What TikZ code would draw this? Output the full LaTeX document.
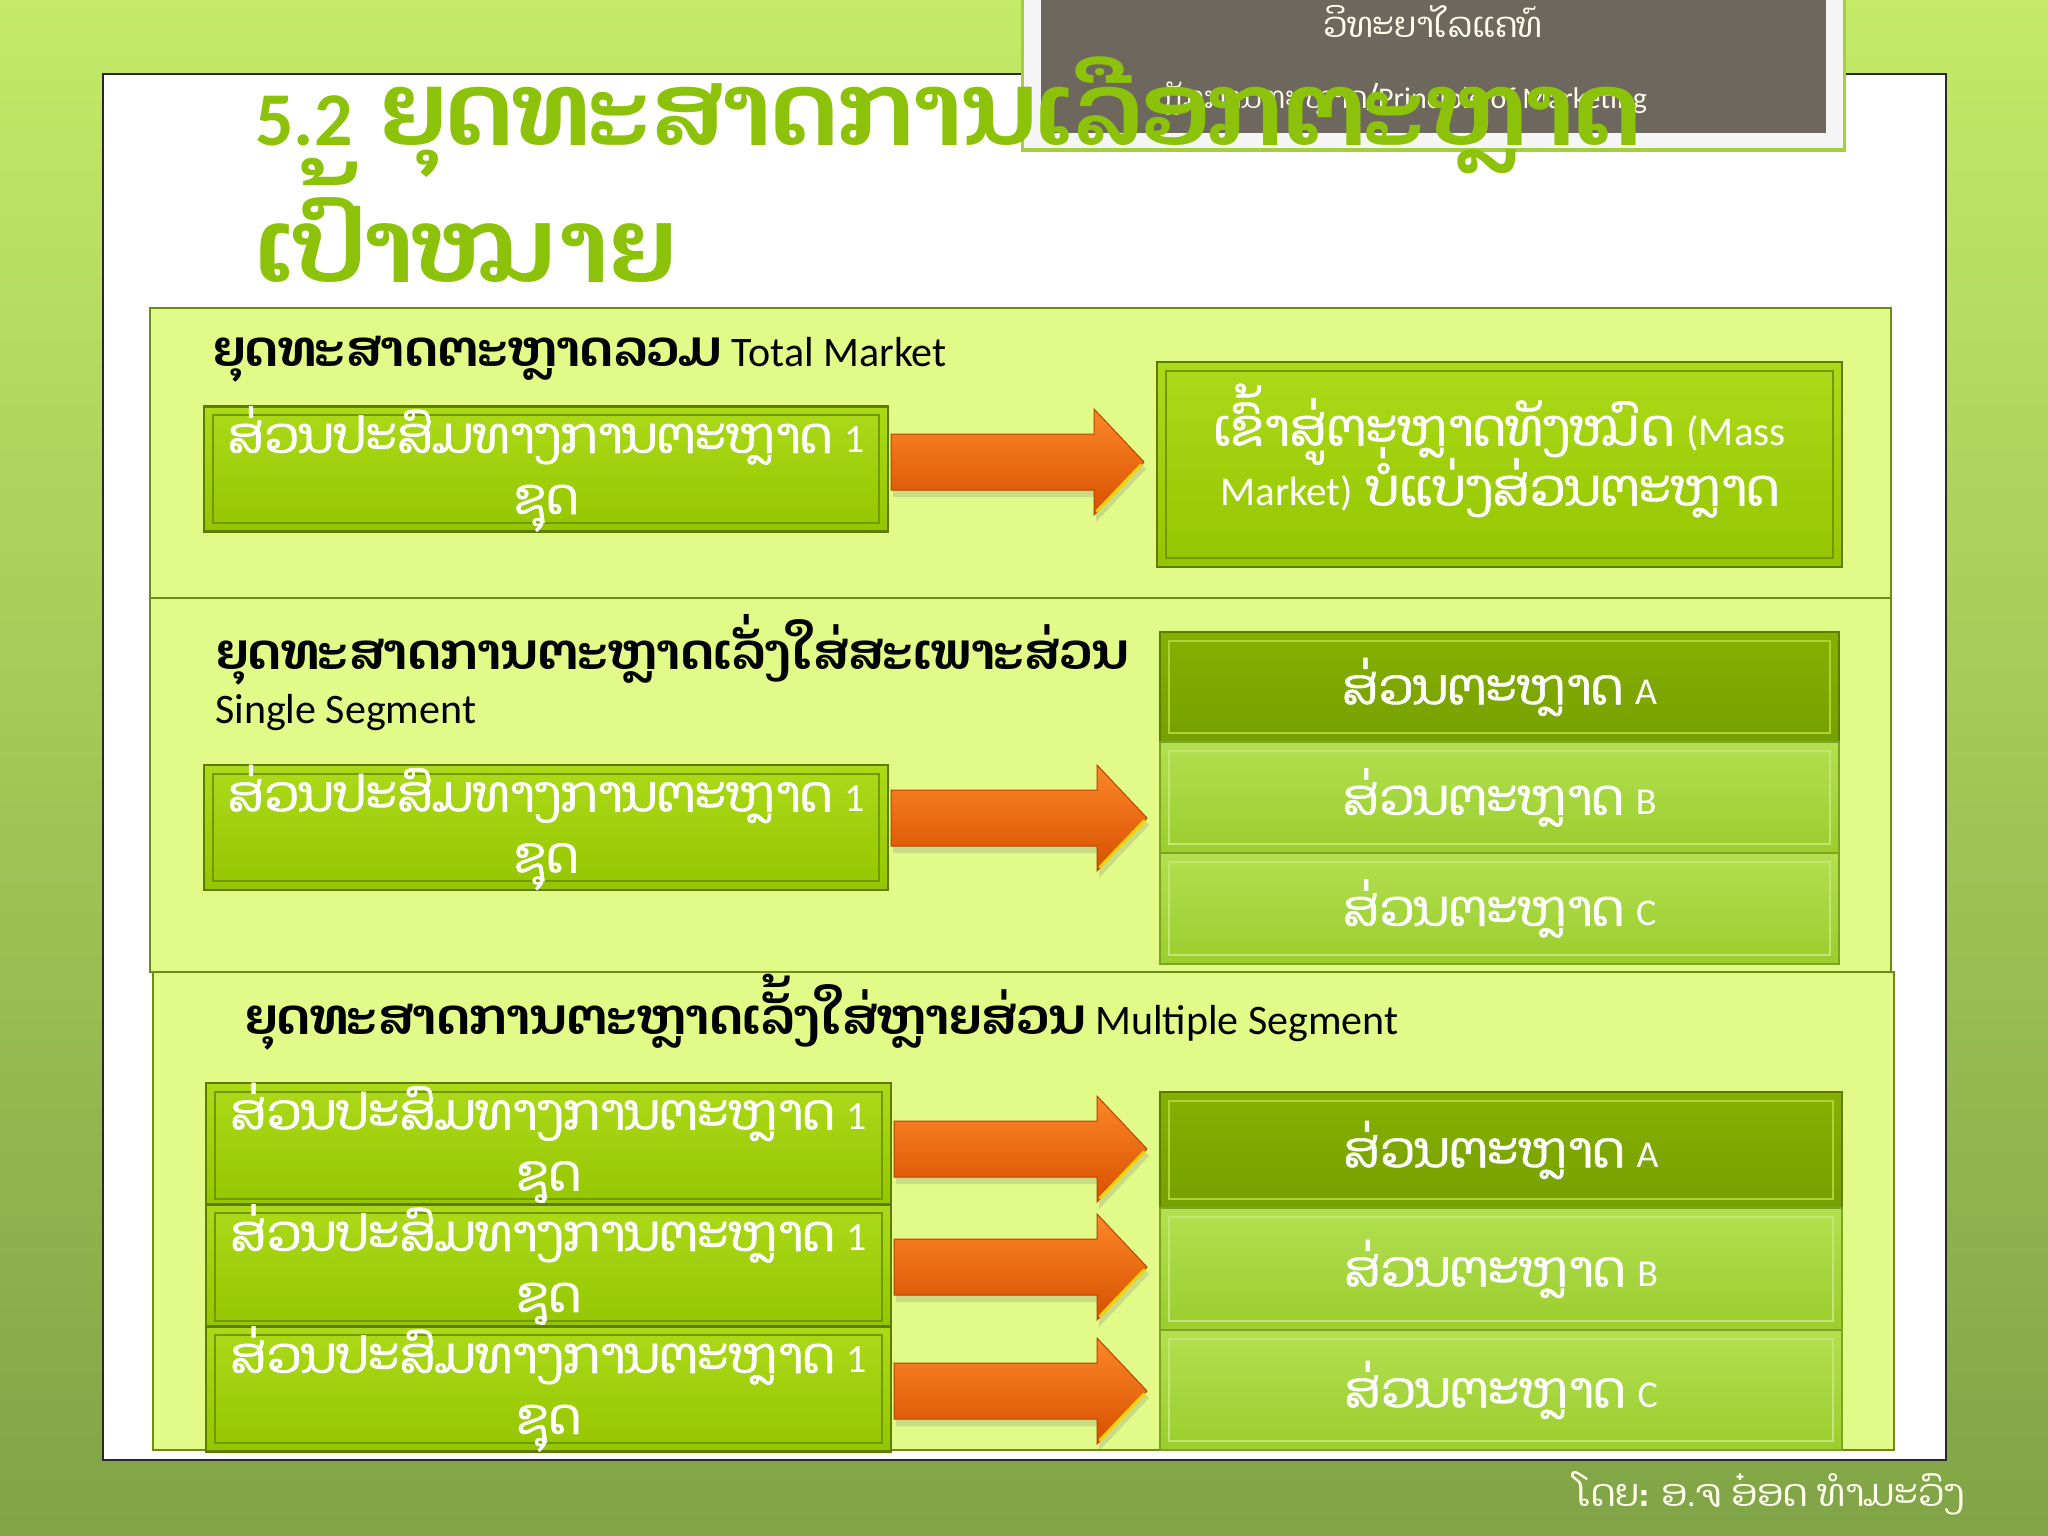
\documentclass[tikz,border=0pt]{standalone}
\usepackage{fontspec}
\setmainfont{Carlito}
\newfontfamily\laofont[Script=Lao]{Dhyana}
\newfontfamily\laomed[Script=Lao,FakeBold=1.2]{Dhyana}
\usetikzlibrary{calc,shadows}
\lineskiplimit=-200pt
\definecolor{bgtop}{RGB}{196,234,104}
\definecolor{bgbot}{RGB}{128,164,70}
\definecolor{titlegreen}{RGB}{140,195,10}
\definecolor{secfill}{RGB}{226,250,135}
\definecolor{secdraw}{RGB}{110,140,20}
\definecolor{boxtop}{RGB}{172,218,25}
\definecolor{boxbot}{RGB}{148,198,0}
\definecolor{boxdark}{RGB}{92,125,0}
\definecolor{boxlight}{RGB}{190,228,70}
\definecolor{segAtop}{RGB}{134,176,0}
\definecolor{segAbot}{RGB}{118,160,0}
\definecolor{segBtop}{RGB}{178,224,80}
\definecolor{segBbot}{RGB}{155,205,45}
\definecolor{arrtop}{RGB}{252,135,40}
\definecolor{arrbot}{RGB}{215,80,0}
\definecolor{graybox}{RGB}{110,103,94}
\definecolor{panelline}{RGB}{40,40,40}
\tikzset{
  secbox/.style={draw=secdraw, line width=2.5pt, fill=secfill, inner sep=0pt, outer sep=0pt},
  bevel/.style={path picture={\draw[line width=2pt, #1]
      ([shift={(9pt,-9pt)}]path picture bounding box.north west) rectangle
      ([shift={(-9pt,9pt)}]path picture bounding box.south east);}},
  greenbox/.style={draw=boxdark, line width=2.5pt, top color=boxtop, bottom color=boxbot,
      inner sep=0pt, outer sep=0pt, text=white, align=center, bevel={boxdark!60!boxbot}},
  segA/.style={draw=boxdark, line width=2.5pt, top color=segAtop, bottom color=segAbot,
      inner sep=0pt, outer sep=0pt, text=white, align=center, bevel={boxlight!70!segAtop}},
  segB/.style={draw=segBbot!80!black, line width=1.5pt, top color=segBtop, bottom color=segBbot,
      inner sep=0pt, outer sep=0pt, text=white, align=center, bevel={segBtop!80!white}},
  arrowbody/.style={top color=arrtop, bottom color=arrbot, draw=arrbot!85!black, line width=1pt,
      drop shadow={opacity=0.25, shadow xshift=2pt, shadow yshift=-7pt}},
  heading/.style={anchor=west, inner sep=0pt, text=black},
  boxtext/.style={font=\laomed\fontsize{50}{61}\selectfont},
  segtext/.style={font=\laomed\fontsize{50}{60}\selectfont},
}
\newcommand{\bx}[7]{\node[#6, minimum width={(#4-#2)*1pt}, minimum height={(#5-#3)*1pt}] (#1) at ({(#2+#4)/2},{(#3+#5)/2}) {#7};}
\newcommand{\blockarrow}[3]{%
  \path[arrowbody] let \p1=(#1.east), \p2=(#2.west) in
   (\x1+3pt,{-(#3-28)*1pt}) -- (\x2-63pt,{-(#3-28)*1pt}) -- (\x2-63pt,{-(#3-53)*1pt})
   -- (\x2-13pt,{-#3*1pt}) -- (\x2-63pt,{-(#3+53)*1pt}) -- (\x2-63pt,{-(#3+28)*1pt})
   -- (\x1+3pt,{-(#3+28)*1pt}) -- cycle;
  \draw[line width=3pt, yellow!70!orange, line cap=round] let \p2=(#2.west) in
   (\x2-60pt,{-(#3+49)*1pt}) -- (\x2-16pt,{-(#3+3)*1pt});}
\newcommand{\boxlabel}{ສ່ວນປະສົມທາງການຕະຫຼາດ {\rmfamily\fontsize{40}{40}\selectfont 1}\\ຊຸດ}
\newcommand{\lat}[1]{{\rmfamily\fontsize{41}{41}\selectfont #1}}
\begin{document}
\begin{tikzpicture}[x=1pt,y=-1pt]
\useasboundingbox (0,0) rectangle (2048,1536);
% background
\shade[top color=bgtop, bottom color=bgbot] (0,0) rectangle (2048,1536);
% white panel
\fill[white] (103,74) rectangle (1946,1460);
\draw[panelline, line width=1.5pt] (103,74) rectangle (1946,1460);
% top-right gray box
\fill[titlegreen!80!white] (1021,-5) rectangle (1846,152);
\fill[gray!8] (1024,-5) rectangle (1843,148);
\fill[graybox] (1041,-5) rectangle (1826,133);
\node[text=white!92!yellow, font=\laofont\fontsize{35}{35}\selectfont] (college) at (1433,21) {ວິທະຍາໄລແຄທ໌};
\node[text=white!92!yellow, font=\laofont\fontsize{30}{30}\selectfont] (course) at (1400,99) {ຫຼັກການຕະຫຼາດ/{\rmfamily Principle of Marketing}};
% title
\node[anchor=base west, inner sep=0pt, text=titlegreen, font=\laofont\bfseries\fontsize{102}{102}\selectfont] (title1) at (255,146) {{\rmfamily\fontsize{76}{76}\selectfont 5.2} ຍຸດທະສາດການເລືອກຕະຫຼາດ};
\node[anchor=base west, inner sep=0pt, text=titlegreen, font=\laofont\bfseries\fontsize{103}{103}\selectfont] (title2) at (255,282) {ເປົ້າໝາຍ};
% sections
\bx{sec1}{150}{308}{1891}{598}{secbox}{}
\bx{sec2}{150}{598}{1891}{972}{secbox}{}
\bx{sec3}{153}{972}{1894}{1450}{secbox}{}
% headings
\node[heading] (h1) at (212,359) {{\laofont\bfseries\fontsize{50}{50}\selectfont ຍຸດທະສາດຕະຫຼາດລວມ}\hspace{10pt}{\fontsize{42}{42}\selectfont Total Market}};
\node[heading] (h2) at (215,650) {\laofont\bfseries\fontsize{50}{50}\selectfont ຍຸດທະສາດການຕະຫຼາດເລັ່ງໃສ່ສະເພາະສ່ວນ};
\node[heading] (h2b) at (215,713) {\fontsize{42}{42}\selectfont Single Segment};
\node[heading] (h3) at (244,1012) {{\laofont\bfseries\fontsize{50}{50}\selectfont ຍຸດທະສາດການຕະຫຼາດເລັ້ງໃສ່ຫຼາຍສ່ວນ}\hspace{10pt}{\fontsize{42}{42}\selectfont Multiple Segment}};
% left boxes
\bx{L1}{204}{409}{888}{529}{greenbox,boxtext}{\boxlabel}
\bx{L2}{204}{767}{888}{888}{greenbox,boxtext}{\boxlabel}
\bx{L3a}{206}{1087}{891}{1204}{greenbox,boxtext}{\boxlabel}
\bx{L3b}{206}{1208}{891}{1326}{greenbox,boxtext}{\boxlabel}
\bx{L3c}{206}{1328}{891}{1450}{greenbox,boxtext}{\boxlabel}
% right boxes
\bx{R1}{1157}{362}{1842}{567}{greenbox}{}
\node[text=white, align=center, inner sep=0pt, font=\laomed\fontsize{51}{60}\selectfont, yshift=14pt] (R1text) at (R1.center) {ເຂົ້າສູ່ຕະຫຼາດທັງໝົດ \lat{(Mass}\\\lat{Market)} ບໍ່ແບ່ງສ່ວນຕະຫຼາດ};
\bx{SA}{1160}{632}{1839}{742}{segA,segtext}{ສ່ວນຕະຫຼາດ {\rmfamily\fontsize{38}{38}\selectfont A}}
\bx{SB}{1160}{742}{1839}{853}{segB,segtext}{ສ່ວນຕະຫຼາດ {\rmfamily\fontsize{38}{38}\selectfont B}}
\bx{SC}{1160}{853}{1839}{964}{segB,segtext}{ສ່ວນຕະຫຼາດ {\rmfamily\fontsize{38}{38}\selectfont C}}
\bx{MA}{1160}{1092}{1842}{1208}{segA,segtext}{ສ່ວນຕະຫຼາດ {\rmfamily\fontsize{38}{38}\selectfont A}}
\bx{MB}{1160}{1208}{1842}{1330}{segB,segtext}{ສ່ວນຕະຫຼາດ {\rmfamily\fontsize{38}{38}\selectfont B}}
\bx{MC}{1160}{1330}{1842}{1450}{segB,segtext}{ສ່ວນຕະຫຼາດ {\rmfamily\fontsize{38}{38}\selectfont C}}
% arrows
\blockarrow{L1}{R1}{462}
\blockarrow{L2}{SB}{818}
\blockarrow{L3a}{MA}{1149}
\blockarrow{L3b}{MB}{1267}
\blockarrow{L3c}{MC}{1391}
% footer
\node[text=white!93!yellow, font=\laofont\fontsize{38}{38}\selectfont] (footer) at (1770,1493) {ໂດຍ: ອ.ຈ ອ໋ອດ ທຳມະວົງ};
\end{tikzpicture}
\end{document}
